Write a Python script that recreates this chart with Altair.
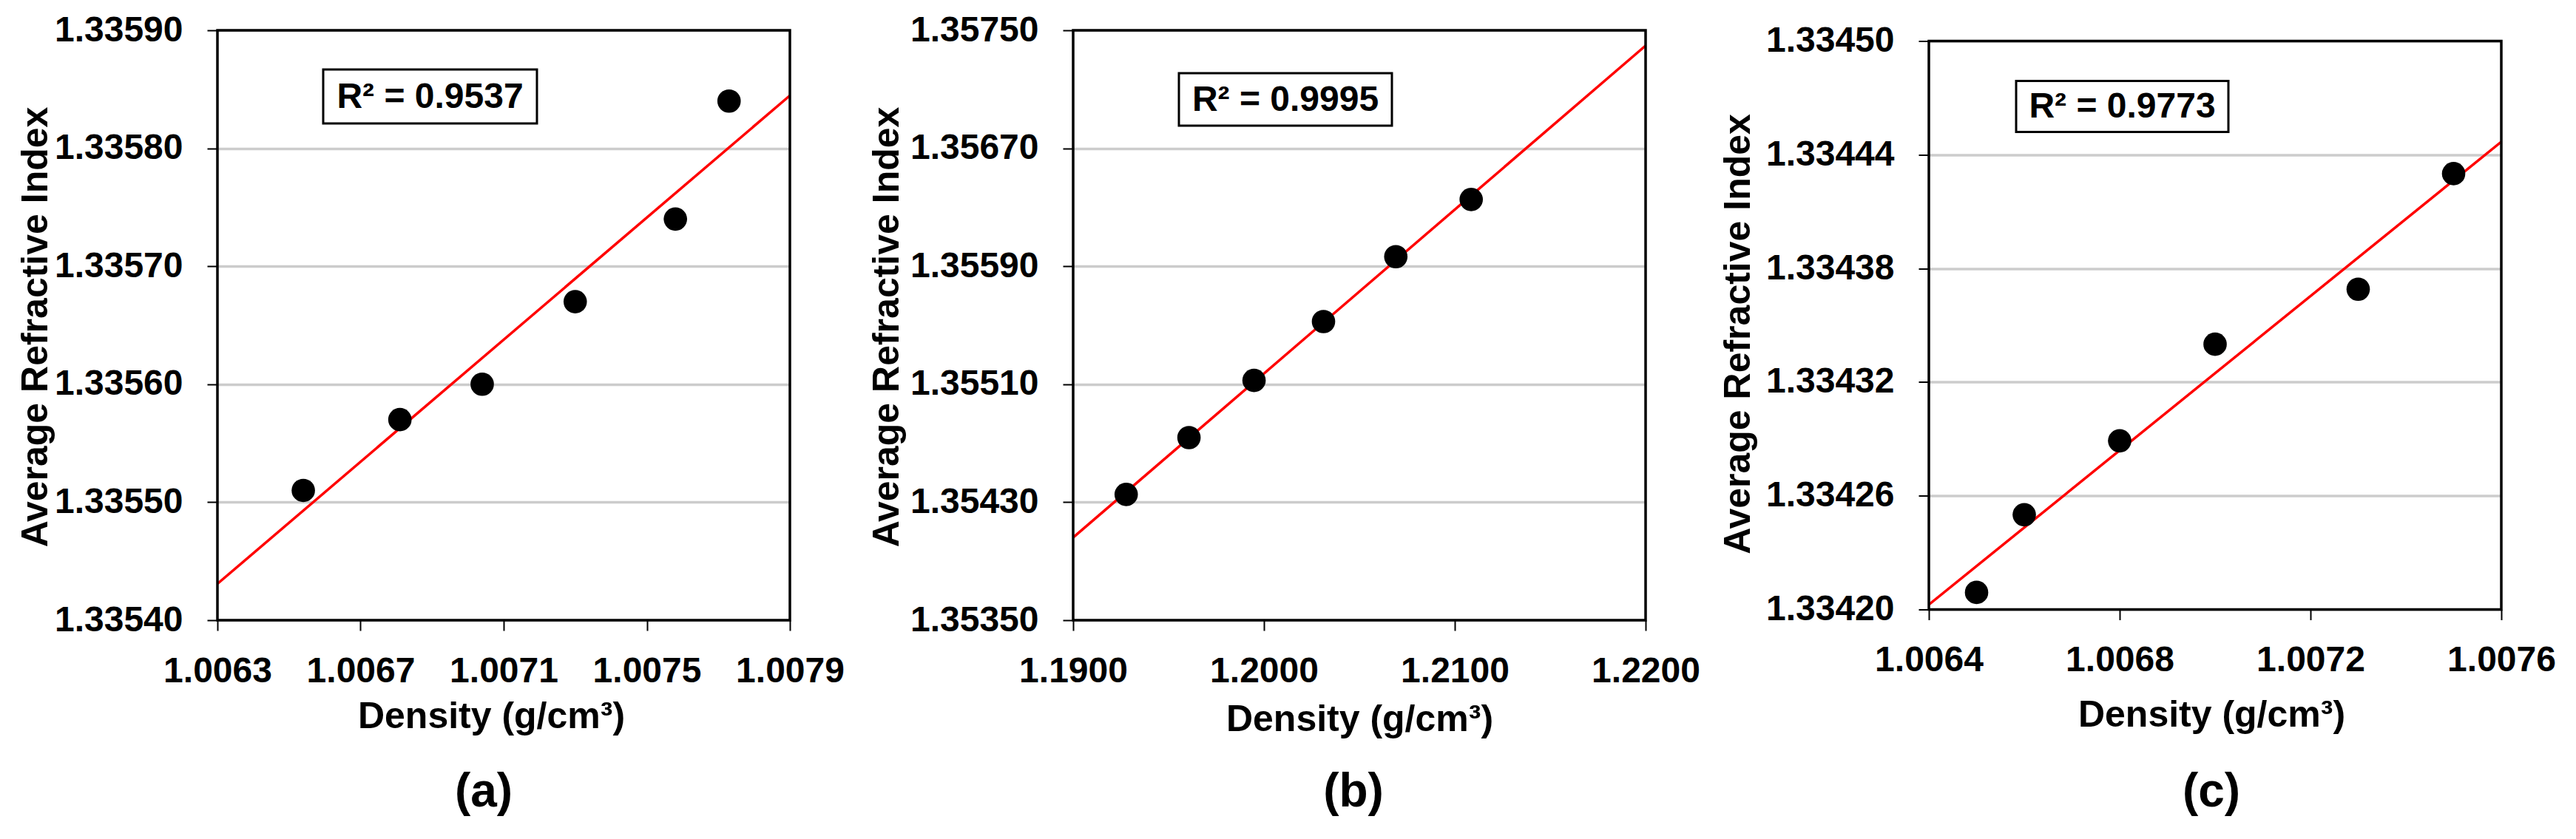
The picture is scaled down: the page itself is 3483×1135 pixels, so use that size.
import altair as alt
import pandas as pd

# ---------------- data ----------------
a_density = [1.00654, 1.00681, 1.00704, 1.00730, 1.00758, 1.00773]
a_ri = [1.33551, 1.33557, 1.33560, 1.33567, 1.33574, 1.33584]
a_xticks = [1.0063, 1.0067, 1.0071, 1.0075, 1.0079]
a_yticks = [1.3354, 1.3355, 1.3356, 1.3357, 1.3358, 1.3359]

b_density = [1.19278, 1.19607, 1.19948, 1.20312, 1.20691, 1.21086]
b_ri = [1.354353, 1.354738, 1.355126, 1.355525, 1.355965, 1.356353]
b_xticks = [1.19, 1.20, 1.21, 1.22]
b_yticks = [1.3535, 1.3543, 1.3551, 1.3559, 1.3567, 1.3575]

c_density = [1.00650, 1.00660, 1.00680, 1.00700, 1.00730, 1.00750]
c_ri = [1.334209, 1.334250, 1.334289, 1.334340, 1.334369, 1.334430]
c_xticks = [1.0064, 1.0068, 1.0072, 1.0076]
c_yticks = [1.33420, 1.33426, 1.33432, 1.33438, 1.33444, 1.33450]

r2_labels = ["R² = 0.9537", "R² = 0.9995", "R² = 0.9773"]
panel_labels = ["(a)", "(b)", "(c)"]

FONT = "Liberation Sans"
W = 774


def panel(xs, ys, xticks, yticks, r2, lab, h, box, ytitle_xy, xtitle_xy, lab_pos):
    df = pd.DataFrame({"x": xs, "y": ys})
    xdom = [xticks[0], xticks[-1]]
    ydom = [yticks[0], yticks[-1]]
    xenc = alt.X(
        "x:Q",
        scale=alt.Scale(domain=xdom, nice=False, zero=False),
        axis=alt.Axis(values=xticks, format=".4f", title="Density (g/cm³)",
                      grid=False, labelPadding=31,
                      titleX=xtitle_xy[0], titleY=xtitle_xy[1],
                      titleBaseline="middle", titleAlign="center",
                      labelOverlap=False, labelFlush=False),
    )
    yenc = alt.Y(
        "y:Q",
        scale=alt.Scale(domain=ydom, nice=False, zero=False),
        axis=alt.Axis(values=yticks, format=".5f", title="Average Refractive Index",
                      grid=True, labelPadding=33,
                      titleX=ytitle_xy[0], titleY=ytitle_xy[1],
                      titleBaseline="alphabetic", titleAlign="center", titleAngle=270,
                      labelOverlap=False, labelFlush=False),
    )
    base = alt.Chart(df)
    line = base.transform_regression("x", "y", extent=xdom).mark_line(
        color="#ff0000", strokeWidth=3.5, clip=True
    ).encode(x=xenc, y=yenc)
    pts = base.mark_circle(size=1000, color="black", opacity=1).encode(x=xenc, y=yenc)

    tdf = pd.DataFrame({"t": [r2], "l": [lab]})
    tb = alt.Chart(tdf)
    x0, x1, y0, y1 = box
    rect = tb.mark_rect(fill="white", stroke="black", strokeWidth=3).encode(
        x=alt.value(x0), x2=alt.value(x1), y=alt.value(y0), y2=alt.value(y1)
    )
    txt = tb.mark_text(font=FONT, fontWeight="bold", fontSize=48, align="center",
                       baseline="middle", color="black").encode(
        x=alt.value((x0 + x1) / 2), y=alt.value((y0 + y1) / 2 + 1), text="t:N"
    )
    frame = tb.mark_rect(fillOpacity=0, stroke="black", strokeWidth=3.5).encode(
        x=alt.value(0), x2=alt.value(W), y=alt.value(0), y2=alt.value(h)
    )
    plab = tb.mark_text(font=FONT, fontWeight="bold", fontSize=64, align="center",
                        baseline="alphabetic", color="black").encode(
        x=alt.value(lab_pos[0]), y=alt.value(lab_pos[1]), text="l:N"
    )
    return alt.layer(line, pts, rect, txt, frame, plab).properties(width=W, height=h)


pa = panel(a_density, a_ri, a_xticks, a_yticks, r2_labels[0], panel_labels[0],
           798, (143, 432, 53, 126), (-231, 401), (370, 130), (360, 1050))
pb = panel(b_density, b_ri, b_xticks, b_yticks, r2_labels[1], panel_labels[1],
           798, (143, 431, 58, 129), (-237, 401), (387, 134), (379, 1050))
pc = panel(c_density, c_ri, c_xticks, c_yticks, r2_labels[2], panel_labels[2],
           769, (118, 405, 54, 123), (-243, 396), (382, 143), (382, 1035))

chart = alt.hconcat(pa, pb, pc, spacing=383, bounds="flush", center=True).properties(
    padding={"left": 15, "top": 9, "right": 0, "bottom": 0},
    background="white",
).configure_view(strokeWidth=0).configure_axis(
    labelFont=FONT, labelFontWeight="bold", labelFontSize=48, labelColor="black",
    titleFont=FONT, titleFontWeight="bold", titleFontSize=50, titleColor="black",
    tickColor="black", tickWidth=2, tickSize=14, domain=False,
    gridColor="#cccccc", gridWidth=3.5,
)

chart.save("out.html", embed_options={"renderer": "svg", "actions": False})
